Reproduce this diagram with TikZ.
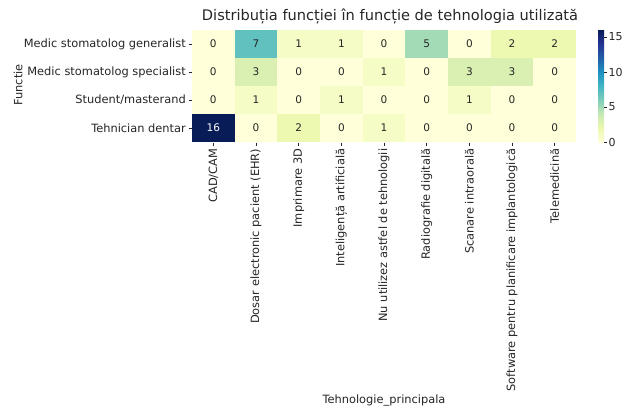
\documentclass[tikz,border=0pt]{standalone}
\usepackage{fontspec}
\setmainfont{DejaVu Sans}
\definecolor{txt}{HTML}{262626}
\definecolor{v0}{HTML}{FFFFD9}
\definecolor{v1}{HTML}{F6FCC5}
\definecolor{v2}{HTML}{EDF8B1}
\definecolor{v3}{HTML}{DAF0B3}
\definecolor{v5}{HTML}{A3DBB7}
\definecolor{v7}{HTML}{60C1BF}
\definecolor{v16}{HTML}{081D58}
\colorlet{t0}{txt}\colorlet{t1}{txt}\colorlet{t2}{txt}\colorlet{t3}{txt}
\colorlet{t5}{txt}\colorlet{t7}{txt}\colorlet{t16}{white}
\definecolor{k0}{HTML}{FFFFD9}
\definecolor{k1}{HTML}{EDF8B1}
\definecolor{k2}{HTML}{C7E9B4}
\definecolor{k3}{HTML}{7FCDBB}
\definecolor{k4}{HTML}{41B6C4}
\definecolor{k5}{HTML}{1D91C0}
\definecolor{k6}{HTML}{225EA8}
\definecolor{k7}{HTML}{253494}
\definecolor{k8}{HTML}{081D58}
\pgfdeclareverticalshading{ylgnbu}{100bp}{color(0bp)=(k0); color(25bp)=(k0);
 color(31.25bp)=(k1); color(37.5bp)=(k2); color(43.75bp)=(k3); color(50bp)=(k4);
 color(56.25bp)=(k5); color(62.5bp)=(k6); color(68.75bp)=(k7); color(75bp)=(k8);
 color(100bp)=(k8)}
\tikzset{
  cell/.style={minimum width=42.67pt, minimum height=28pt, inner sep=0pt, font=\fontsize{10.5}{12}\selectfont},
  ylab/.style={anchor=east, inner sep=0pt, text=txt, font=\fontsize{11.4}{13}\selectfont},
  xlab/.style={rotate=90, anchor=east, inner sep=0pt, text=txt, font=\fontsize{11.4}{13}\selectfont},
  tickmark/.style={draw=txt, line width=0.6pt},
  cblab/.style={anchor=west, inner sep=0pt, text=txt, font=\fontsize{11}{13}\selectfont},
}
\begin{document}
\begin{tikzpicture}[x=1pt,y=-1pt]
\useasboundingbox (0,0) rectangle (628,410);
\fill[white] (0,0) rectangle (628,410);
% title
\node[text=txt, inner sep=0pt] (title) at (390,16) {\fontsize{14.6}{17}\selectfont Distribuția funcției în funcție de tehnologia utilizată};
% cells
\foreach \r/\row in {0/{0,7,1,1,0,5,0,2,2},1/{0,3,0,0,1,0,3,3,0},2/{0,1,0,1,0,0,1,0,0},3/{16,0,2,0,1,0,0,0,0}}{
  \foreach \v [count=\c from 0] in \row {
    \node[cell, fill=v\v, text=t\v] (cell-\r-\c) at ({192+42.67*(\c+0.5)},{30+28*(\r+0.5)}) {\v};
  }
}
% row labels
\foreach \r/\lab in {0/{Medic stomatolog generalist},1/{Medic stomatolog specialist},2/{Student/masterand},3/{Tehnician dentar}}{
  \coordinate (rt-\r) at (188.5,{30+28*(\r+0.5)});
  \coordinate (rs-\r) at (191.5,{30+28*(\r+0.5)});
  \draw[tickmark] (rt-\r) -- (rs-\r);
  \node[ylab] (row-\r) at (186,{30+28*(\r+0.5)}) {\lab};
}
% column labels
\foreach \c/\lab in {0/{CAD/CAM},1/{Dosar electronic pacient (EHR)},2/{Imprimare 3D},3/{Inteligență artificială},4/{Nu utilizez astfel de tehnologii},5/{Radiografie digitală},6/{Scanare intraorală},7/{Software pentru planificare implantologică},8/{Telemedicină}}{
  \coordinate (ct-\c) at ({192+42.67*(\c+0.5)},142.5);
  \coordinate (cs-\c) at ({192+42.67*(\c+0.5)},145.5);
  \draw[tickmark] (ct-\c) -- (cs-\c);
  \node[xlab] (col-\c) at ({192+42.67*(\c+0.5)},148.5) {\lab};
}
% axis titles
\node[rotate=90, text=txt, inner sep=0pt, font=\fontsize{11.4}{13}\selectfont] (ytitle) at (18,85) {Functie};
\node[text=txt, inner sep=0pt, font=\fontsize{11.4}{13}\selectfont] (xtitle) at (384,401) {Tehnologie\_principala};
% colorbar
\shade[shading=ylgnbu] (598,30) rectangle (604,142);
\foreach \t in {0,5,10,15}{
  \coordinate (cbt-\t) at (604,{142-7*\t});
  \coordinate (cbs-\t) at (607,{142-7*\t});
  \draw[tickmark] (cbt-\t) -- (cbs-\t);
  \node[cblab] (cb-\t) at (608.5,{142-7*\t}) {\t};
}
\end{tikzpicture}
\end{document}
